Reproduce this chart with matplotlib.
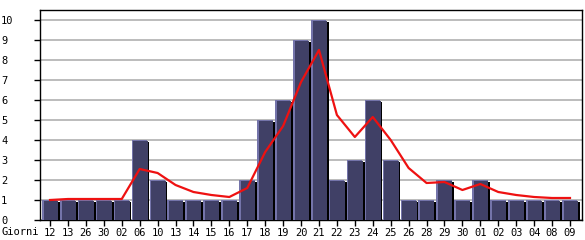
import matplotlib
matplotlib.use("Agg")
import matplotlib.pyplot as plt
import numpy as np

days = ["12", "13", "26", "30", "02", "06", "10", "13", "14", "15", "16", "17",
        "18", "19", "20", "21", "22", "23", "24", "25", "26", "28", "29", "30",
        "01", "02", "03", "04", "08", "09"]
counts = [1, 1, 1, 1, 1, 4, 2, 1, 1, 1, 1, 2, 5, 6, 9, 10, 2, 3, 6, 3,
          1, 1, 2, 1, 2, 1, 1, 1, 1, 1]
trend = [1.0, 1.05, 1.05, 1.05, 1.05, 2.55, 2.35, 1.75, 1.4, 1.25, 1.15, 1.6,
         3.4, 4.7, 6.9, 8.5, 5.25, 4.15, 5.15, 4.0, 2.6, 1.85, 1.9, 1.5,
         1.8, 1.4, 1.25, 1.15, 1.1, 1.1]

plt.rcParams['font.family'] = ['DejaVu Sans Mono']

fig = plt.figure(figsize=(5.85, 2.4), dpi=100)
ax = fig.add_axes([40 / 585, 20 / 240, 542 / 585, 210 / 240])

x = np.arange(len(days))
w = 0.86
# shadow, light edge, dark body
ax.bar(x + 0.11, np.array(counts) - 0.1, width=w, color='black', zorder=2)
ax.bar(x - 0.02, counts, width=w, color='#7474aa', zorder=3)
ax.bar(x + 0.04, np.array(counts) - 0.07, width=w - 0.06, color='#404066', zorder=4)

ax.plot(x, trend, color='#ee1111', linewidth=1.6, zorder=5)

ax.set_xlim(-0.56, len(days) - 0.33)
ax.set_ylim(0, 10.5)
ax.set_yticks(range(0, 11))
ax.yaxis.grid(True, color='#b0b0b0', linewidth=1.2)
ax.set_axisbelow(True)
ax.set_xticks(x)
ax.set_xticklabels(days)
ax.tick_params(axis='x', length=4, width=1, pad=2, labelsize=7.5)
ax.tick_params(axis='y', length=4, width=1, pad=24, labelsize=7.5)
for lab in ax.get_yticklabels():
    lab.set_horizontalalignment('left')
for s in ax.spines.values():
    s.set_linewidth(1)

fig.text(2 / 585, 8 / 240, "Giorni", fontsize=7.5, va='center', ha='left')

fig.savefig("out.png", dpi=100)
